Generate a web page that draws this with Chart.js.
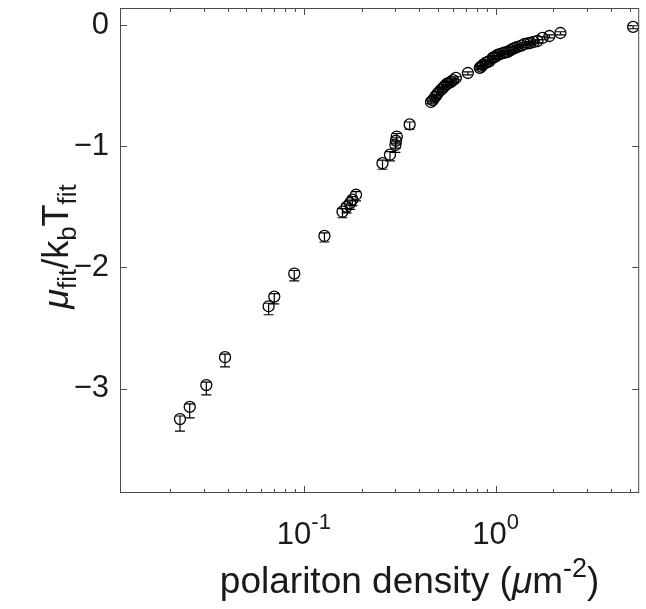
<!DOCTYPE html>
<html lang="en">
<head>
    <meta charset="UTF-8">
    <title>Chemical potential vs polariton density</title>
    <script src="https://cdn.jsdelivr.net/npm/chart.js"></script>
    <style>
        body {
            margin: 0;
            background: #ffffff;
        }
        .chart-container {
            width: 646px;
            height: 609px;
        }
    </style>
</head>
<body>

    <div class="chart-container">
        <canvas id="muChart"></canvas>
    </div>

    <script>
        // polariton density (um^-2)
        const density = [
            0.0226, 0.0254, 0.0310, 0.0388, 0.0655, 0.0701, 0.0891, 0.128, 0.159, 0.167,
            0.174, 0.179, 0.187, 0.257, 0.281, 0.300, 0.302, 0.305, 0.356,
            0.460, 0.470, 0.483, 0.490, 0.500, 0.518, 0.531, 0.545, 0.557, 0.570, 0.584,
            0.600, 0.620, 0.716, 0.826, 0.840, 0.856, 0.887, 0.910, 0.931, 0.965,
            0.980, 1.000, 1.024, 1.05, 1.09, 1.12, 1.154, 1.19, 1.225, 1.26,
            1.301, 1.36, 1.414, 1.47, 1.519, 1.58, 1.652, 1.754, 1.906, 2.175, 5.206
        ];
        // mu_fit / kb T_fit
        const muOverKT = [
            -3.25, -3.15, -2.97, -2.74, -2.32, -2.24, -2.05, -1.74, -1.54, -1.50,
            -1.47, -1.44, -1.40, -1.14, -1.07, -0.99, -0.955, -0.92, -0.82,
            -0.635, -0.62, -0.594, -0.580, -0.561, -0.536, -0.519, -0.500, -0.486, -0.478, -0.470,
            -0.455, -0.437, -0.396, -0.354, -0.343, -0.330, -0.313, -0.305, -0.297, -0.272,
            -0.265, -0.260, -0.247, -0.240, -0.232, -0.226, -0.223, -0.210, -0.198, -0.190,
            -0.181, -0.170, -0.157, -0.152, -0.148, -0.140, -0.132, -0.107, -0.091, -0.066, -0.016
        ];
        const errLow = [
            0.10, 0.09, 0.08, 0.08, 0.07, 0.06, 0.06, 0.05, 0.05, 0.05,
            0.05, 0.05, 0.05, 0.05, 0.05, 0.06, 0.06, 0.06, 0.04,
            0.015, 0.015, 0.015, 0.015, 0.015, 0.015, 0.015, 0.015, 0.015, 0.015, 0.015,
            0.015, 0.015, 0.015, 0.015, 0.015, 0.015, 0.015, 0.015, 0.015, 0.015,
            0.015, 0.015, 0.015, 0.015, 0.015, 0.015, 0.015, 0.015, 0.015, 0.015,
            0.015, 0.015, 0.015, 0.015, 0.015, 0.015, 0.015, 0.015, 0.015, 0.015, 0.015
        ];
        const errHigh = [
            0.025, 0.025, 0.025, 0.025, 0.025, 0.025, 0.025, 0.025, 0.025, 0.025,
            0.025, 0.025, 0.025, 0.025, 0.025, 0.025, 0.025, 0.025, 0.02,
            0.01, 0.01, 0.01, 0.01, 0.01, 0.01, 0.01, 0.01, 0.01, 0.01, 0.01,
            0.01, 0.01, 0.01, 0.01, 0.01, 0.01, 0.01, 0.01, 0.01, 0.01,
            0.01, 0.01, 0.01, 0.01, 0.01, 0.01, 0.01, 0.01, 0.01, 0.01,
            0.01, 0.01, 0.01, 0.01, 0.01, 0.01, 0.01, 0.01, 0.01, 0.01, 0.01
        ];

        const xTickValues = [0.1, 1];
        const xTickExponents = ['-1', '0'];
        const yTickValues = [0, -1, -2, -3];

        const FONT = "'Liberation Sans', Arial, Helvetica, sans-serif";
        const INK = '#1a1a1a';

        // draw a run of text pieces (base / sub / sup), centred on 0
        function drawRuns(ctx, runs, baseSize) {
            let total = 0;
            runs.forEach(r => {
                ctx.font = (r.italic ? 'italic ' : '') + Math.round(baseSize * (r.scale || 1)) + 'px ' + FONT;
                r.w = ctx.measureText(r.t).width;
                total += r.w;
            });
            let x = -total / 2;
            runs.forEach(r => {
                ctx.font = (r.italic ? 'italic ' : '') + Math.round(baseSize * (r.scale || 1)) + 'px ' + FONT;
                ctx.fillText(r.t, x, r.dy || 0);
                x += r.w;
            });
        }

        const errorBars = {
            id: 'errorBars',
            beforeDatasetsDraw(chart) {
                const { ctx, scales: { x, y } } = chart;
                ctx.save();
                ctx.strokeStyle = '#000';
                ctx.lineWidth = 1.2;
                density.forEach((d, i) => {
                    const px = x.getPixelForValue(d);
                    const top = y.getPixelForValue(muOverKT[i] + errHigh[i]);
                    const bot = y.getPixelForValue(muOverKT[i] - errLow[i]);
                    ctx.beginPath();
                    ctx.moveTo(px, top); ctx.lineTo(px, bot);
                    ctx.moveTo(px - 5, top); ctx.lineTo(px + 5, top);
                    ctx.moveTo(px - 5, bot); ctx.lineTo(px + 5, bot);
                    ctx.stroke();
                });
                ctx.restore();
            }
        };

        const axesBox = {
            id: 'axesBox',
            afterDraw(chart) {
                const { ctx, chartArea: a, scales: { x, y } } = chart;
                ctx.save();
                ctx.strokeStyle = '#4a4a4a';
                ctx.lineWidth = 1;
                ctx.strokeRect(a.left + 0.5, a.top + 0.5, a.right - a.left - 1, a.bottom - a.top - 1);

                // inward ticks on the log axis (top and bottom)
                ctx.beginPath();
                const e0 = Math.floor(Math.log10(x.min));
                const e1 = Math.ceil(Math.log10(x.max));
                for (let e = e0; e <= e1; e++) {
                    for (let m = 1; m <= 9; m++) {
                        const v = m * Math.pow(10, e);
                        if (v < x.min || v > x.max) continue;
                        const px = Math.round(x.getPixelForValue(v)) + 0.5;
                        const len = m === 1 ? 7 : 4;
                        ctx.moveTo(px, a.bottom); ctx.lineTo(px, a.bottom - len);
                        ctx.moveTo(px, a.top); ctx.lineTo(px, a.top + len);
                    }
                }
                yTickValues.forEach(v => {
                    const py = Math.round(y.getPixelForValue(v)) + 0.5;
                    ctx.moveTo(a.left, py); ctx.lineTo(a.left + 7, py);
                    ctx.moveTo(a.right, py); ctx.lineTo(a.right - 7, py);
                });
                ctx.stroke();

                // x tick labels 10^n
                ctx.fillStyle = INK;
                ctx.textBaseline = 'alphabetic';
                ctx.textAlign = 'left';
                xTickValues.forEach((v, i) => {
                    ctx.save();
                    ctx.translate(x.getPixelForValue(v), 544);
                    drawRuns(ctx, [
                        { t: '10' },
                        { t: xTickExponents[i], scale: 0.72, dy: -15 }
                    ], 31);
                    ctx.restore();
                });

                // x axis title
                ctx.save();
                ctx.translate((a.left + a.right) / 2 + 30, 593);
                drawRuns(ctx, [
                    { t: 'polariton density (' },
                    { t: 'μ', italic: true },
                    { t: 'm' },
                    { t: '-2', scale: 0.72, dy: -16 },
                    { t: ')' }
                ], 37);
                ctx.restore();

                // y axis title
                ctx.save();
                ctx.translate(68, (a.top + a.bottom) / 2 - 4);
                ctx.rotate(-Math.PI / 2);
                drawRuns(ctx, [
                    { t: 'μ', italic: true },
                    { t: 'fit', scale: 0.72, dy: 8 },
                    { t: '/k' },
                    { t: 'b', scale: 0.72, dy: 8 },
                    { t: 'T' },
                    { t: 'fit', scale: 0.72, dy: 8 }
                ], 36);
                ctx.restore();

                ctx.restore();
            }
        };

        const ctx = document.getElementById('muChart').getContext('2d');
        new Chart(ctx, {
            type: 'scatter',
            data: {
                datasets: [{
                    label: 'mu/kT',
                    data: density.map((d, i) => ({ x: d, y: muOverKT[i] })),
                    pointStyle: 'circle',
                    pointRadius: 5.5,
                    pointBorderWidth: 1.3,
                    borderColor: '#000',
                    backgroundColor: 'rgba(0,0,0,0)'
                }]
            },
            options: {
                responsive: true,
                maintainAspectRatio: false,
                animation: false,
                layout: { padding: { top: 8, right: 4, left: 0, bottom: 0 } },
                plugins: {
                    legend: { display: false },
                    tooltip: { enabled: false }
                },
                scales: {
                    x: {
                        type: 'logarithmic',
                        min: 0.011,
                        max: 5.6,
                        grid: { display: false },
                        border: { display: false },
                        ticks: { display: false },
                        afterFit: s => { s.height = 116; s.paddingLeft = 0; s.paddingRight = 0; }
                    },
                    y: {
                        min: -3.86,
                        max: 0.14,
                        grid: { display: false, drawTicks: false },
                        border: { display: false },
                        afterBuildTicks: s => { s.ticks = yTickValues.map(v => ({ value: v })); },
                        ticks: {
                            color: INK,
                            padding: 11,
                            font: { family: FONT, size: 31 },
                            callback: v => (v < 0 ? '\u2212' + Math.abs(v) : String(v))
                        },
                        afterFit: s => { s.width = 120; s.paddingTop = 0; s.paddingBottom = 0; }
                    }
                }
            },
            plugins: [errorBars, axesBox]
        });
    </script>

</body>
</html>
